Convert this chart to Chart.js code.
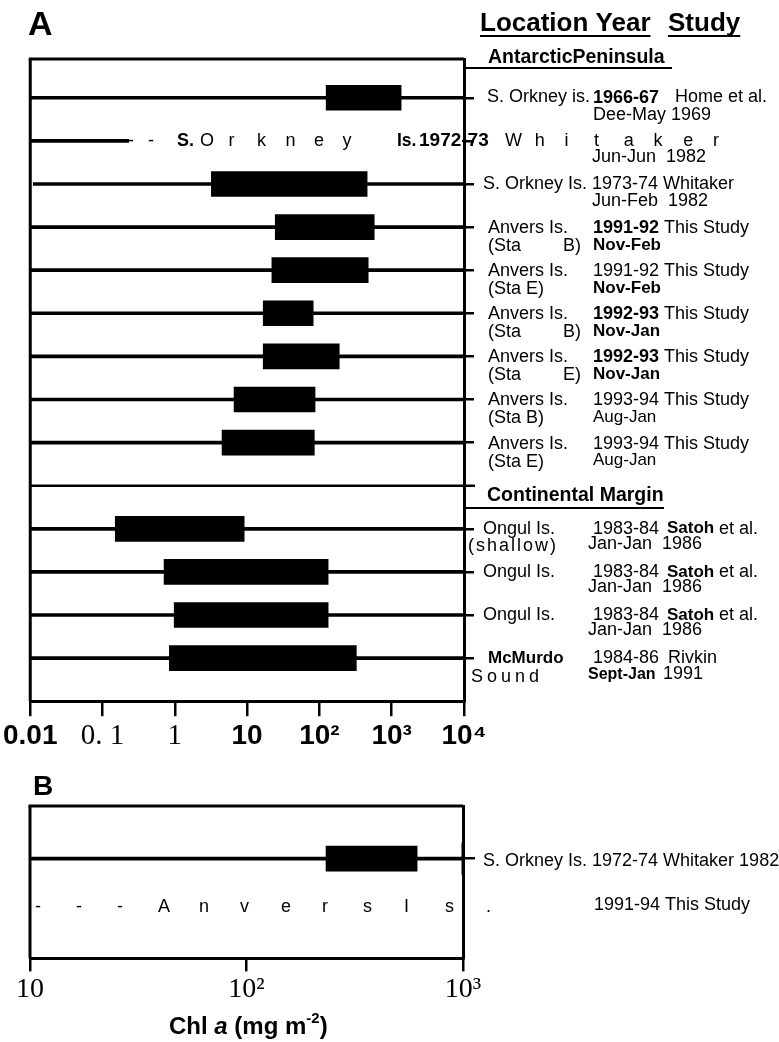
<!DOCTYPE html>
<html>
<head>
<meta charset="utf-8">
<script src="https://cdn.jsdelivr.net/npm/chart.js@4.4.1/dist/chart.umd.min.js"></script>
<style>
  body { margin: 0; background: #fff; }
  #wrap { position: relative; width: 779px; height: 1042px; }
  canvas { position: absolute; left: 0; }
  #chartA { top: 0; }
  #chartB { top: 760px; }
</style>
</head>
<body>
<div id="wrap">
  <canvas id="chartA" width="779" height="770"></canvas>
  <canvas id="chartB" width="779" height="282"></canvas>
</div>
<script>
// ---- panel A data (row 9 is the gap between the two regions) ----
const rowsA = [0, 1, 2, 3, 4, 5, 6, 7, 8, 10, 11, 12, 13];
const boxLowA   = [124, null, 3.2, 24.5, 22, 16.7, 16.7, 6.6, 4.5, 0.15, 0.71, 0.98, 0.84];
const boxHighA  = [1350, null, 457, 573, 473, 82, 188, 87, 85, 9.1, 132, 132, 324];
const rangeLowA  = [0.01, 0.01, 0.011, 0.01, 0.01, 0.01, 0.01, 0.01, 0.01, 0.01, 0.01, 0.01, 0.01];
const rangeHighA = [10000, 0.23, 10000, 10000, 10000, 10000, 10000, 10000, 10000, 10000, 10000, 10000, 10000];
const ticksA = [0.01, 0.1, 1, 10, 100, 1000, 10000];
const tickLabelsA = ["0.01", "0. 1", "1", "10", "10²", "10³", "10⁴"];

const locationA = ["S. Orkney is.", "S. Orkney Is.", "S. Orkney Is.", "Anvers Is.", "Anvers Is.", "Anvers Is.", "Anvers Is.", "Anvers Is.", "Anvers Is.", "Ongul Is.", "Ongul Is.", "Ongul Is.", "McMurdo"];
const stationA  = ["", "", "", "(Sta B)", "(Sta E)", "(Sta B)", "(Sta E)", "(Sta B)", "(Sta E)", "(shallow)", "", "", "Sound"];
const yearsA    = ["1966-67", "1972-73", "1973-74", "1991-92", "1991-92", "1992-93", "1992-93", "1993-94", "1993-94", "1983-84", "1983-84", "1983-84", "1984-86"];
const monthsA   = ["Dee-May", "Jun-Jun", "Jun-Feb", "Nov-Feb", "Nov-Feb", "Nov-Jan", "Nov-Jan", "Aug-Jan", "Aug-Jan", "Jan-Jan", "Jan-Jan", "Jan-Jan", "Sept-Jan"];
const authorsA  = ["Home et al.", "Whitaker", "Whitaker", "This Study", "This Study", "This Study", "This Study", "This Study", "This Study", "Satoh et al.", "Satoh et al.", "Satoh et al.", "Rivkin"];
const pubYearsA = ["1969", "1982", "1982", "", "", "", "", "", "", "1986", "1986", "1986", "1991"];
const groupsA = ["AntarcticPeninsula", "Continental Margin"];

// ---- panel B data ----
const rowsB = [0];
const boxLowB = [233];
const boxHighB = [614];
const rangeLowB = [10];
const rangeHighB = [1000];
const ticksB = [10, 100, 1000];
const tickLabelsB = ["10", "10²", "10³"];
const labelsB = ["S. Orkney Is. 1972-74 Whitaker 1982", "1991-94 This Study"];
const siteB2 = "Anvers Is.";

const SANS = '"Liberation Sans", Arial, sans-serif';
const SERIF = '"Liberation Serif", "Times New Roman", serif';

function put(ctx, s, x, y, size, bold, italic) {
  ctx.font = (italic ? 'italic ' : '') + (bold ? 'bold ' : '') + size + 'px ' + SANS;
  ctx.fillText(s, x, y);
  return x + ctx.measureText(s).width;
}
function spread(ctx, s, x0, step, y, size, bold) {
  s.split('').forEach((ch, k) => put(ctx, ch, x0 + k * step, y, size, bold));
}
function hline(ctx, x1, x2, y, w) {
  ctx.lineWidth = w;
  ctx.beginPath(); ctx.moveTo(x1, y); ctx.lineTo(x2, y); ctx.stroke();
}
function vline(ctx, x, y1, y2, w) {
  ctx.lineWidth = w;
  ctx.beginPath(); ctx.moveTo(x, y1); ctx.lineTo(x, y2); ctx.stroke();
}

const boldYear = [0, 1, 3, 5, 6];
const boldMonth = [3, 4, 5, 6, 12];
const spacedSta = [3, 5, 6];

const frameA = {
  id: 'frameA',
  afterDraw(chart) {
    const ctx = chart.ctx, a = chart.chartArea, ys = chart.scales.y;
    ctx.save();
    ctx.strokeStyle = '#000'; ctx.fillStyle = '#000';
    hline(ctx, a.left - 1.5, a.right, a.top, 3);
    vline(ctx, a.left, a.top, a.bottom, 3);
    hline(ctx, a.left, a.right + 11, ys.getPixelForValue(9), 2.5);

    ctx.textBaseline = 'middle'; ctx.textAlign = 'left';
    put(ctx, 'A', 28, 26, 34, true);
    let e = put(ctx, 'Location Year', 480, 24, 26, true);
    hline(ctx, 480, e, 36, 2);
    e = put(ctx, 'Study', 668, 24, 26, true);
    hline(ctx, 668, e, 36, 2);

    put(ctx, groupsA[0], 488, 58, 19.5, true);
    hline(ctx, a.right, 672, 68, 2);
    put(ctx, groupsA[1], 487, 496, 19.5, true);
    hline(ctx, a.right, 664, 508, 2);

    rowsA.forEach((r, i) => {
      const y = ys.getPixelForValue(r);
      const by = boldYear.includes(i), bm = boldMonth.includes(i);
      if (i === 0) {
        put(ctx, locationA[i], 487, y - 1, 18);
        put(ctx, yearsA[i], 593, y, 18, true);
        put(ctx, authorsA[i], 675, y - 1, 18);
        put(ctx, monthsA[i] + ' ' + pubYearsA[i], 593, y + 17, 18);
      } else if (i === 1) {
        const p = locationA[i].split(' ');
        put(ctx, '-', 128, y, 18); put(ctx, '-', 148, y, 18);
        put(ctx, p[0], 177, y, 18, true);
        spread(ctx, p[1], 200, 28.5, y, 18);
        put(ctx, p[2], 397, y, 17.5, true);
        put(ctx, yearsA[i], 419, y, 19, true);
        spread(ctx, authorsA[i], 505, 29.7, y, 18);
        put(ctx, monthsA[i] + '  ' + pubYearsA[i], 592, y + 16, 18);
      } else if (i === 2) {
        put(ctx, locationA[i] + ' ' + yearsA[i] + ' ' + authorsA[i], 483, y, 18);
        put(ctx, monthsA[i] + '  ' + pubYearsA[i], 592, y + 17, 18);
      } else if (i <= 8) {
        put(ctx, locationA[i], 488, y + 1, 18);
        put(ctx, yearsA[i], 593, y + 1, 18, by);
        put(ctx, authorsA[i], 664, y + 1, 18);
        if (spacedSta.includes(i)) {
          const s = stationA[i].split(' ');
          put(ctx, s[0], 488, y + 19, 18);
          put(ctx, s[1], 563, y + 19, 18);
        } else {
          put(ctx, stationA[i], 488, y + 19, 18);
        }
        put(ctx, monthsA[i], 593, y + 18, 17, bm);
      } else if (i <= 11) {
        const au = authorsA[i].split(' ');
        put(ctx, locationA[i], 483, y, 18);
        put(ctx, yearsA[i], 593, y, 18);
        put(ctx, au[0], 667, y, 17, true);
        put(ctx, au.slice(1).join(' '), 719, y, 18);
        if (stationA[i]) {
          ctx.letterSpacing = '2px';
          put(ctx, stationA[i], 468, y + 17, 18);
          ctx.letterSpacing = '0px';
        }
        put(ctx, monthsA[i] + '  ' + pubYearsA[i], 588, y + 15, 18);
      } else {
        put(ctx, locationA[i], 488, y, 17, true);
        put(ctx, yearsA[i], 593, y, 18);
        put(ctx, authorsA[i], 668, y, 18);
        ctx.letterSpacing = '4px';
        put(ctx, stationA[i], 471, y + 19, 18);
        ctx.letterSpacing = '0px';
        put(ctx, monthsA[i], 588, y + 16, 16, bm);
        put(ctx, pubYearsA[i], 663, y + 16, 18);
      }
    });
    ctx.restore();
  }
};

const frameB = {
  id: 'frameB',
  afterDraw(chart) {
    const ctx = chart.ctx, a = chart.chartArea, ys = chart.scales.y;
    ctx.save();
    ctx.strokeStyle = '#000'; ctx.fillStyle = '#000';
    hline(ctx, a.left - 1.5, a.right, a.top, 3);
    vline(ctx, a.left, a.top, a.bottom, 3);
    const y0 = ys.getPixelForValue(0), y1 = ys.getPixelForValue(1);
    vline(ctx, a.right, y0 - 16, y0 + 16, 3);
    ctx.textBaseline = 'middle'; ctx.textAlign = 'left';
    put(ctx, 'B', 33, 27, 28, true);
    put(ctx, labelsB[0], 483, y0 + 2, 18);
    spread(ctx, '---' + siteB2.replace(' ', ''), 35, 41, y1, 18);
    put(ctx, labelsB[1], 594, y1 - 2, 18);
    // x axis title: Chl a (mg m-2)
    let x = 169, ty = 267;
    x = put(ctx, 'Chl ', x, ty, 24, true);
    x = put(ctx, 'a', x, ty, 24, true, true);
    x = put(ctx, ' (mg m', x, ty, 24, true);
    x = put(ctx, '-2', x, ty - 8, 15, true);
    put(ctx, ')', x, ty, 24, true);
    ctx.restore();
  }
};

function boxes(rows, lo, hi) {
  return rows.map((r, i) => lo[i] == null ? null : { x: [lo[i], hi[i]], y: r }).filter(Boolean);
}

new Chart(document.getElementById('chartA'), {
  type: 'bar',
  data: {
    datasets: [
      { data: boxes(rowsA, boxLowA, boxHighA), backgroundColor: '#000', barThickness: 25, grouped: false },
      { data: boxes(rowsA, rangeLowA, rangeHighA), backgroundColor: '#000', barThickness: 3, grouped: false }
    ]
  },
  options: {
    indexAxis: 'y',
    responsive: false,
    animation: false,
    layout: { padding: { left: 30, right: 305, top: 59, bottom: 13 } },
    plugins: { legend: { display: false }, tooltip: { enabled: false } },
    scales: {
      x: {
        type: 'logarithmic', min: 0.01, max: 10000,
        afterBuildTicks: s => { s.ticks = ticksA.map(v => ({ value: v })); },
        ticks: {
          autoSkip: false, maxRotation: 0, color: '#000', padding: 3,
          callback: (v, i) => tickLabelsA[i],
          font: c => (c.index === 1 || c.index === 2)
            ? { family: SERIF, size: 29 }
            : { family: SANS, size: 28, weight: 'bold' }
        },
        grid: { drawOnChartArea: false, tickLength: 15, color: '#000', lineWidth: 2.5 },
        border: { color: '#000', width: 3 }
      },
      y: {
        type: 'linear', position: 'right', reverse: true, min: -0.9, max: 14,
        offset: false,
        afterBuildTicks: s => { s.ticks = rowsA.map(v => ({ value: v })); },
        ticks: { display: false },
        grid: { offset: false, drawOnChartArea: false, tickLength: 10, color: '#000', lineWidth: 2.5 },
        border: { color: '#000', width: 3 }
      }
    }
  },
  plugins: [frameA]
});

new Chart(document.getElementById('chartB'), {
  type: 'bar',
  data: {
    datasets: [
      { data: boxes(rowsB, boxLowB, boxHighB), backgroundColor: '#000', barThickness: 25, grouped: false },
      { data: boxes(rowsB, rangeLowB, rangeHighB), backgroundColor: '#000', barThickness: 3, grouped: false }
    ]
  },
  options: {
    indexAxis: 'y',
    responsive: false,
    animation: false,
    layout: { padding: { left: 30, right: 304, top: 46, bottom: 35 } },
    plugins: { legend: { display: false }, tooltip: { enabled: false } },
    scales: {
      x: {
        type: 'logarithmic', min: 10, max: 1000,
        afterBuildTicks: s => { s.ticks = ticksB.map(v => ({ value: v })); },
        ticks: {
          autoSkip: false, maxRotation: 0, color: '#000', padding: 1,
          callback: (v, i) => tickLabelsB[i],
          font: { family: SERIF, size: 28 }
        },
        grid: { drawOnChartArea: false, tickLength: 13, color: '#000', lineWidth: 2.5 },
        border: { color: '#000', width: 3 }
      },
      y: {
        type: 'linear', position: 'right', reverse: true, min: -1.09, max: 2.07,
        offset: false,
        afterBuildTicks: s => { s.ticks = rowsB.map(v => ({ value: v })); },
        ticks: { display: false },
        grid: { offset: false, drawOnChartArea: false, tickLength: 12, color: '#000', lineWidth: 2.5 },
        border: { color: '#000', width: 3 }
      }
    }
  },
  plugins: [frameB]
});
</script>
</body>
</html>
